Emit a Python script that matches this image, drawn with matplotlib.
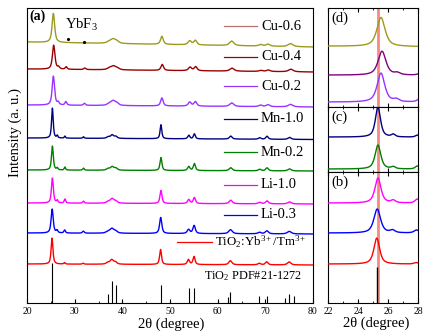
import numpy as np
import matplotlib
matplotlib.use("Agg")
import matplotlib.pyplot as plt

plt.rcParams['font.family'] = ['Liberation Serif', 'DejaVu Serif']
plt.rcParams['mathtext.fontset'] = 'custom'
plt.rcParams['mathtext.rm'] = 'Liberation Serif'
plt.rcParams['mathtext.it'] = 'Liberation Serif:italic'

# samples, top to bottom
samples = ["Cu-0.6", "Cu-0.4", "Cu-0.2", "Mn-1.0", "Mn-0.2", "Li-1.0", "Li-0.3",
           r"TiO$_2$:Yb$^{3+}$/Tm$^{3+}$"]
colors = ["#9c9a1e", "#990000", "#9933ff", "#000080", "#008000", "#ff00ff", "#0000ff", "#ff0000"]
legend_colors = ["#b87070", "#990000", "#9933ff", "#000080", "#008000", "#ff00ff", "#0000ff", "#ff0000"]
zoom_colors = ["#9c9a1e", "#800080", "#9933ff", "#000080", "#008000", "#ff00ff", "#0000ff", "#ff0000"]

# peaks (2theta, base FWHM)
peak_pos = [25.28, 26.3, 27.9, 31.8, 36.95, 37.8, 38.58, 48.05, 53.89, 55.06, 62.69, 68.76, 70.31, 75.03]
peak_fwhm = [0.48, 0.35, 0.35, 0.40, 0.8, 0.9, 0.8, 0.5, 0.6, 0.55, 0.8, 0.7, 0.7, 0.9]

# peak heights per sample (a.u.)
heights = [
    [29, 0.0, 0.0, 0.0, 1.5, 4.0, 2.0, 8, 4.0, 4.5, 4.5, 1.5, 2, 3.0],
    [24, 2.0, 2.5, 1.5, 1.5, 3.5, 1.5, 6, 3.5, 4.0, 3.0, 1.0, 1.5, 2.5],
    [29, 2.5, 3.5, 2.0, 1.5, 4.5, 2.0, 8, 4.0, 4.5, 3.5, 1.5, 2, 2.5],
    [30, 2.5, 2.0, 1.5, 1.5, 3.5, 2.0, 14, 3.5, 5.0, 3.0, 1.5, 3, 2.0],
    [24, 2.0, 3.0, 2.0, 1.5, 3.5, 2.0, 13, 4.0, 7.0, 3.0, 1.5, 3, 2.0],
    [25, 2.5, 4.0, 2.0, 1.5, 4.5, 2.0, 13, 4.0, 6.0, 3.5, 1.5, 3, 2.0],
    [24, 2.5, 3.0, 2.0, 1.5, 4.5, 2.0, 16, 4.0, 8.0, 4.0, 1.5, 3, 2.5],
    [26, 0.0, 1.5, 1.0, 1.5, 4.5, 2.0, 15, 5.0, 8.0, 4.0, 1.5, 3, 3.0],
]
peak_shift = [0.25, 0.32, 0.25, 0.05, 0.05, 0.05, 0.0, -0.03]
width_factor = [1.35, 1.3, 1.25, 0.85, 0.95, 1.0, 1.1, 0.95]
bg_drop = [5, 3, 2, 1.5, 1, 1, 1, 1]

# TiO2 anatase PDF#21-1272 sticks
ref_pos = [25.28, 36.95, 37.80, 38.58, 48.05, 53.89, 55.06, 62.12, 62.69, 68.76, 70.31, 74.03, 75.03, 76.02]
ref_int = [40, 9, 22, 18, 18, 15, 15, 6, 11, 7, 7, 5, 9, 7]

main_offsets = [261, 234, 198, 165, 133, 100, 70, 39]
legend_y = [277, 246, 217, 184, 151, 118, 88, 61]


def pattern(i, x):
    y = -bg_drop[i] * (x - 20) / 60.0
    for p, w, h in zip(peak_pos, peak_fwhm, heights[i]):
        c = p + peak_shift[i]
        hw = w * width_factor[i] / 2
        lor = 1 / (1 + ((x - c) / hw) ** 2)
        gau = np.exp(-np.log(2) * ((x - c) / hw) ** 2)
        y = y + h * (0.7 * lor + 0.3 * gau)
    return y


W, H = 434, 336
fig = plt.figure(figsize=(W / 100, H / 100), dpi=100)
fig.patch.set_facecolor('white')

ax = fig.add_axes([27 / W, 1 - 303 / H, 286 / W, 295 / H])
x = np.linspace(20, 80, 3000)
for i in range(len(samples)):
    ax.plot(x, main_offsets[i] + pattern(i, x), color=colors[i], lw=1.0)

ax.vlines(ref_pos, 0, ref_int, color='black', lw=0.8)

for i, name in enumerate(samples):
    if i < 7:
        ax.plot([61.3, 68.3], [legend_y[i]] * 2, color=legend_colors[i], lw=0.9)
        ax.text(69.1, legend_y[i], name, fontsize=10.5, va='center', ha='left')
    else:
        ax.plot([51.5, 58.8], [legend_y[i]] * 2, color=legend_colors[i], lw=0.9)
        ax.text(59.4, legend_y[i], name, fontsize=9.3, va='center', ha='left')

ax.text(57.1, 27, r"TiO$_2$ PDF#21-1272", fontsize=8.8, va='center', ha='left')
ax.text(28.0, 278, r"YbF$_3$", fontsize=10.5, va='center', ha='left')
ax.plot([28.6, 32.0], [264, 261], 'k.', ms=2.5)
ax.text(0.01, 0.973, "(a)", transform=ax.transAxes, fontsize=10, weight='bold',
        va='center', ha='left')

ax.set_xlim(20, 80)
ax.set_ylim(0, 295)
ax.set_xticks(range(20, 81, 10))
ax.set_xticks(range(25, 80, 10), minor=True)
ax.set_yticks([])
ax.tick_params(axis='x', which='both', direction='in', labelsize=7, pad=3)
ax.tick_params(axis='x', which='major', length=3)
ax.tick_params(axis='x', which='minor', length=1.5)

fig.text(171.5 / W, 1 - 324 / H, "2θ (degree)", fontsize=10.5, ha='center', va='center')
fig.text(15 / W, 1 - 133 / H, "Intensity (a. u.)", fontsize=10.5, rotation=90,
         ha='center', va='center')

# zoomed panels around the (101) peak
panels = [
    ("(d)", [0, 1, 2], [61, 32, 5], 8, 107),
    ("(c)", [3, 4], [35, 3], 107, 172),
    ("(b)", [5, 6, 7], [100, 70, 39], 172, 303),
]
xz = np.linspace(22, 28, 1200)
for label, idx, offs, top, bot in panels:
    axz = fig.add_axes([328 / W, 1 - bot / H, 90 / W, (bot - top) / H])
    for i, off in zip(idx, offs):
        axz.plot(xz, off + pattern(i, xz), color=zoom_colors[i], lw=1.0, zorder=3)
    if label == "(b)":
        axz.vlines([ref_pos[0]], 0, 36, color='black', lw=1.0, zorder=3)
    axz.axvline(25.3, color='#f58a80', lw=2.0, zorder=2)
    axz.set_xlim(22, 28)
    axz.set_ylim(0, bot - top)
    axz.set_yticks([])
    axz.set_xticks([22, 24, 26, 28])
    axz.set_xticks([23, 25, 27], minor=True)
    axz.tick_params(axis='x', which='both', direction='in', top=True, labelsize=7, pad=3)
    axz.tick_params(axis='x', which='major', length=3)
    axz.tick_params(axis='x', which='minor', length=1.5)
    if label != "(b)":
        axz.tick_params(axis='x', labelbottom=False)
    axz.text(0.04, 1 - 10 / (bot - top), label, transform=axz.transAxes, fontsize=10.5,
             va='center', ha='left', zorder=6)

fig.text(376.5 / W, 1 - 323 / H, "2θ (degree)", fontsize=10.5, ha='center', va='center')

plt.savefig("out.png", dpi=100)
plt.close()
